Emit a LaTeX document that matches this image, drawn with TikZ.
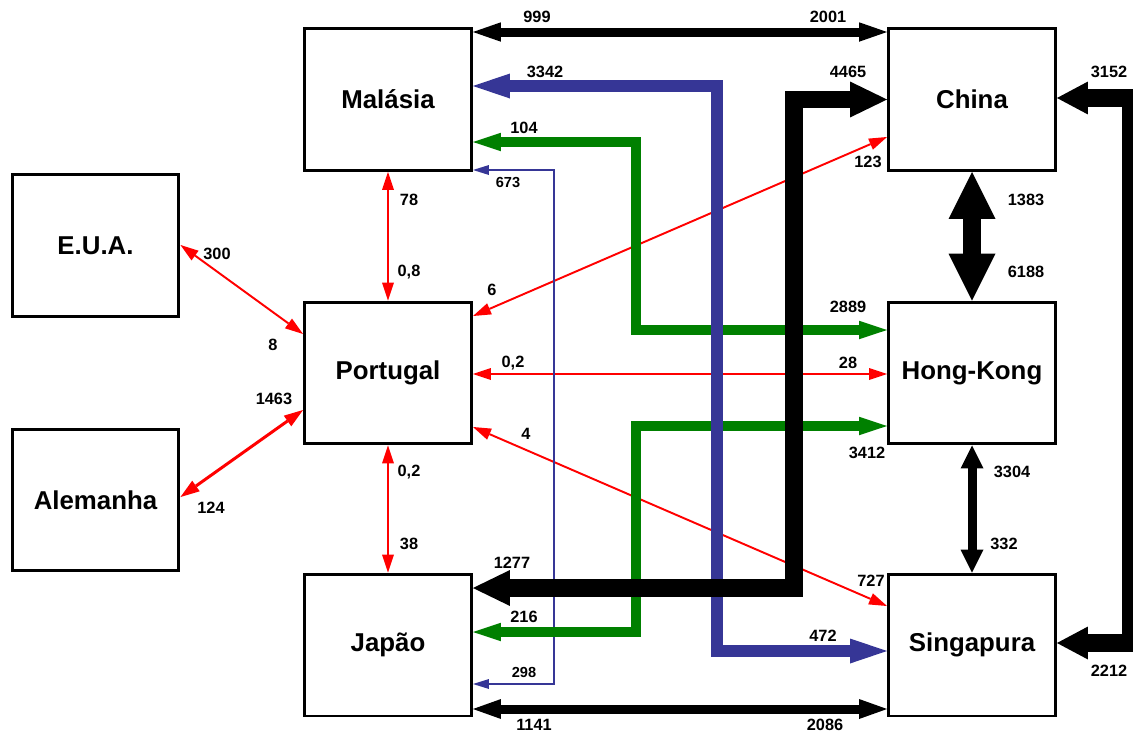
\documentclass[tikz,border=0pt]{standalone}
\usepackage{fontspec}
\setmainfont{Liberation Sans}
\usetikzlibrary{arrows.meta}
\definecolor{verde}{RGB}{0,128,0}
\definecolor{azul}{RGB}{54,54,150}
\begin{document}
\begin{tikzpicture}[x=0.02cm,y=-0.02cm,
  pais/.style={draw,line width=1.7pt,minimum width=3.34cm,minimum height=2.84cm,
    font=\fontsize{14.7}{17}\selectfont\bfseries},
  num/.style={font=\fontsize{9.3}{11}\selectfont\bfseries,inner sep=0pt},
  numb/.style={font=\fontsize{8.3}{10}\selectfont\bfseries,inner sep=0pt},
  fluxo/.style n args={4}{draw=#1,line width=#2,line join=miter,
    {Triangle[length=#3,width=#4,line width=0pt]}-{Triangle[length=#3,width=#4,line width=0pt]}}]
\pgfmathsetmacro{\xf}{554};
\pgfmathsetmacro{\xv}{636};
\pgfmathsetmacro{\xa}{717};
\pgfmathsetmacro{\xp}{794};
\pgfmathsetmacro{\xl}{1131};
\useasboundingbox (0,0) rectangle (1133,734);
\begin{scope}
\node[pais] (eua) at (95.5,245.5) {E.U.A.};
\node[pais] (alemanha) at (95.5,500) {Alemanha};
\node[pais] (malasia) at (388,99.5) {Malásia};
\node[pais] (portugal) at (388,373) {Portugal};
\node[pais] (japao) at (388,645) {Japão};
\node[pais] (china) at (972,99.5) {China};
\node[pais] (hongkong) at (972,373) {Hong-Kong};
\node[pais] (singapura) at (972,645) {Singapura};
\end{scope}
% vermelho: Portugal
\draw[fluxo={red}{1.1pt}{0.36cm}{0.24cm}] (malasia.south) -- (portugal.north);
\draw[fluxo={red}{1.1pt}{0.36cm}{0.24cm}] (portugal.south) -- (japao.north);
\draw[fluxo={red}{1.1pt}{0.36cm}{0.24cm}] (eua.east |- 0,245) -- (portugal.west |- 0,334);
\draw[fluxo={red}{1.7pt}{0.38cm}{0.26cm}] (alemanha.east |- 0,497) -- (portugal.west |- 0,410);
\draw[fluxo={red}{1.1pt}{0.36cm}{0.24cm}] (portugal.east |- 0,316) -- (china.west |- 0,137);
\draw[fluxo={red}{1.1pt}{0.36cm}{0.24cm}] (portugal.east |- 0,374) -- (hongkong.west |- 0,374);
\draw[fluxo={red}{1.1pt}{0.36cm}{0.24cm}] (portugal.east |- 0,427) -- (singapura.west |- 0,606);
% azul fino
\draw[fluxo={azul}{1.2pt}{0.32cm}{0.2cm}] (malasia.east |- 0,170) -- (\xf,170) -- (\xf,684) -- (japao.east |- 0,684);
% verde
\draw[fluxo={verde}{0.19cm}{0.56cm}{0.37cm}] (malasia.east |- 0,142) -- (\xv,142) -- (\xv,330) -- (hongkong.west |- 0,330);
\draw[fluxo={verde}{0.19cm}{0.56cm}{0.37cm}] (japao.east |- 0,632) -- (\xv,632) -- (\xv,426) -- (hongkong.west |- 0,426);
% azul grosso
\draw[fluxo={azul}{0.24cm}{0.74cm}{0.5cm}] (malasia.east |- 0,86) -- (\xa,86) -- (\xa,651) -- (singapura.west |- 0,651);
% preto
\draw[fluxo={black}{0.35cm}{0.74cm}{0.72cm}] (japao.east |- 0,588) -- (\xp,588) -- (\xp,99.5) -- (china.west);
\draw[fluxo={black}{0.18cm}{0.56cm}{0.39cm}] (malasia.east |- 0,32) -- (china.west |- 0,32);
\draw[fluxo={black}{0.18cm}{0.56cm}{0.4cm}] (japao.east |- 0,709) -- (singapura.west |- 0,709);
\draw[fluxo={black}{0.36cm}{0.94cm}{0.94cm}] (china.south) -- (hongkong.north);
\draw[fluxo={black}{0.18cm}{0.46cm}{0.46cm}] (hongkong.south) -- (singapura.north);
\draw[fluxo={black}{0.36cm}{0.62cm}{0.66cm}] (singapura.east |- 0,643) -- (\xl,643) -- (\xl,98) -- (china.east |- 0,98);
% valores
\node[num] (l999) at (537,17) {999};
\node[num] (l2001) at (828,17) {2001};
\node[num] (l3342) at (545,72) {3342};
\node[num] (l4465) at (848,72) {4465};
\node[num] (l3152) at (1109,72) {3152};
\node[num] (l104) at (524,128) {104};
\node[num] (l123) at (868,162) {123};
\node[numb] (l673) at (508,182) {673};
\node[num] (l78) at (409,200) {78};
\node[num] (l1383) at (1026,200) {1383};
\node[num] (l08) at (409,272) {0,8};
\node[num] (l6188) at (1026,272) {6188};
\node[num] (l300) at (217,254) {300};
\node[num] (l8) at (273,345) {8};
\node[num] (l6) at (492,290) {6};
\node[num] (l2889) at (848,307) {2889};
\node[num] (l02a) at (513,363) {0,2};
\node[num] (l28) at (848,363) {28};
\node[num] (l1463) at (274,399) {1463};
\node[num] (l4) at (526,434) {4};
\node[num] (l3412) at (867,453) {3412};
\node[num] (l02b) at (409,472) {0,2};
\node[num] (l3304) at (1012,472) {3304};
\node[num] (l124) at (211,508) {124};
\node[num] (l38) at (409,544) {38};
\node[num] (l332) at (1004,544) {332};
\node[num] (l1277) at (512,563) {1277};
\node[num] (l727) at (871,581) {727};
\node[num] (l216) at (524,617) {216};
\node[num] (l472) at (823,636) {472};
\node[num] (l2212) at (1109,671) {2212};
\node[numb] (l298) at (524,672) {298};
\node[num] (l1141) at (534,725) {1141};
\node[num] (l2086) at (825,725) {2086};
\end{tikzpicture}
\end{document}
